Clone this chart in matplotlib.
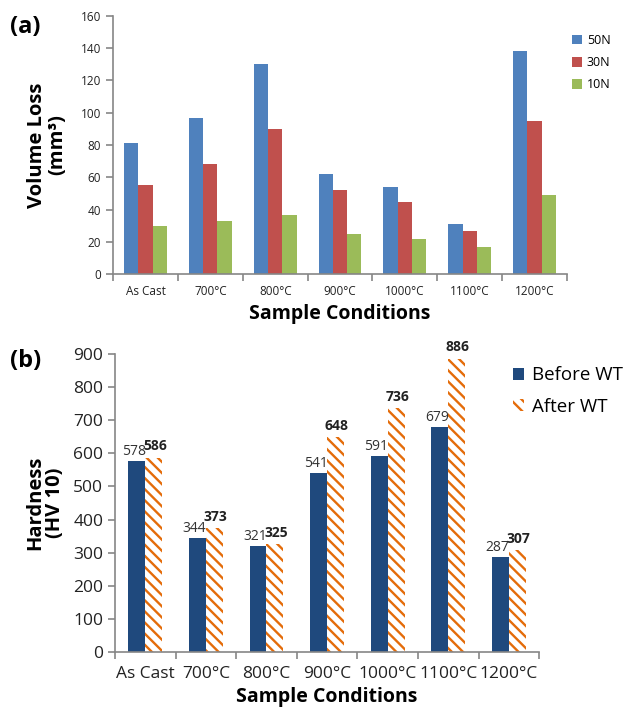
import numpy as np
import matplotlib.pyplot as plt

plt.rcParams["font.family"] = ["Open Sans", "DejaVu Sans"]
plt.rcParams["hatch.linewidth"] = 1.7

conditions = ["As Cast", "700°C", "800°C", "900°C", "1000°C", "1100°C", "1200°C"]

# volume loss (mm^3) per load
loads = ["50N", "30N", "10N"]
vol_50n = [81, 97, 130, 62, 54, 31, 138]
vol_30n = [55, 68, 90, 52, 45, 27, 95]
vol_10n = [30, 33, 37, 25, 22, 17, 49]

# hardness (HV 10) before / after wear test
hard_before = [578, 344, 321, 541, 591, 679, 287]
hard_after = [586, 373, 325, 648, 736, 886, 307]

load_colors = ["#4F81BD", "#C0504D", "#9BBB59"]
navy = "#1F497D"
orange = "#E46C0A"
spine_c = "#868686"

fig = plt.figure(figsize=(6.32, 7.18), dpi=100)
ax1 = fig.add_axes([0.179, 0.618, 0.718, 0.360])
ax2 = fig.add_axes([0.182, 0.092, 0.671, 0.415])

x = np.arange(len(conditions))


def style_axes(ax, ymax, ystep, tick_fs):
    for s in ("top", "right"):
        ax.spines[s].set_visible(False)
    for s in ("left", "bottom"):
        ax.spines[s].set_color(spine_c)
        ax.spines[s].set_linewidth(1.2)
    ax.set_xlim(-0.5, len(conditions) - 0.5)
    ax.set_ylim(0, ymax)
    ax.set_yticks(np.arange(0, ymax + 1, ystep))
    ax.set_xticks(x)
    ax.set_xticklabels(conditions)
    ax.set_xticks(np.arange(-0.5, len(conditions)), minor=True)
    ax.tick_params(axis="x", which="major", length=0, pad=8, labelsize=tick_fs)
    ax.tick_params(axis="x", which="minor", length=5, color=spine_c, width=1.2)
    ax.tick_params(axis="y", length=5, color=spine_c, width=1.2, labelsize=tick_fs)
    for lab in ax.get_xticklabels() + ax.get_yticklabels():
        lab.set_color("#222222")


# (a) volume loss
w = 0.22
for i, (vals, lab, col) in enumerate(zip([vol_50n, vol_30n, vol_10n], loads, load_colors)):
    ax1.bar(x + (i - 1) * w, vals, w, color=col, label=lab)
style_axes(ax1, 160, 20, 8.5)
ax1.set_ylabel("Volume Loss\n(mm³)", fontsize=14.5, fontweight="bold", labelpad=10, linespacing=1.0)
ax1.set_xlabel("Sample Conditions", fontsize=14, fontweight="bold", labelpad=4)
ax1.legend(loc="upper left", bbox_to_anchor=(1.0, 0.95), frameon=False, fontsize=9,
           handlelength=0.8, handleheight=0.8, handletextpad=0.4, labelspacing=0.75,
           borderaxespad=0)

# (b) hardness
w2 = 0.28
ax2.bar(x - w2 / 2, hard_before, w2, color=navy, label="Before WT")
ax2.bar(x + w2 / 2, hard_after, w2, color="white", edgecolor=orange, hatch="\\\\\\",
        linewidth=0, label="After WT")
for xi, v in zip(x, hard_before):
    ax2.text(xi - w2 / 2 - 0.05, v + 6, str(v), ha="center", va="bottom", fontsize=10, color="#333333")
for xi, v in zip(x, hard_after):
    ax2.text(xi + w2 / 2 + 0.02, v + 14, str(v), ha="center", va="bottom", fontsize=10,
             fontweight="bold", color="#222222")
style_axes(ax2, 900, 100, 12.5)
ax2.tick_params(axis="x", pad=10)
ax2.set_ylabel("Hardness\n(HV 10)", fontsize=14.5, fontweight="bold", labelpad=6, linespacing=1.0)
ax2.set_xlabel("Sample Conditions", fontsize=14, fontweight="bold", labelpad=4)
handles, labels = ax2.get_legend_handles_labels()
fig.legend(handles, labels, loc="upper left", bbox_to_anchor=(0.80, 0.50), frameon=False,
           fontsize=13.5, handlelength=0.6, handleheight=0.6, handletextpad=0.4,
           labelspacing=0.7, borderaxespad=0)

fig.text(0.016, 0.962, "(a)", fontsize=17, fontweight="bold", va="center")
fig.text(0.016, 0.497, "(b)", fontsize=17, fontweight="bold", va="center")

fig.savefig("out.png", dpi=100)
